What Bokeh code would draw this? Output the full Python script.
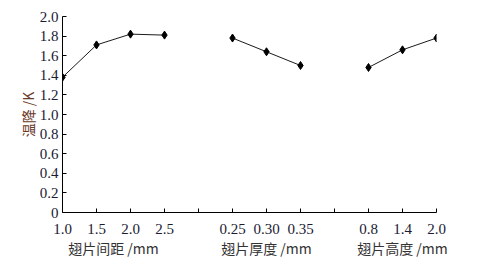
from bokeh.plotting import figure
from bokeh.models import LinearAxis, FixedTicker, Range1d
from bokeh.embed import file_html
from bokeh.resources import INLINE

# Data
spacing_labels = ["1.0", "1.5", "2.0", "2.5"]
spacing_values = [1.38, 1.71, 1.82, 1.81]
thickness_labels = ["0.25", "0.30", "0.35"]
thickness_values = [1.78, 1.64, 1.50]
height_labels = ["0.8", "1.4", "2.0"]
height_values = [1.48, 1.66, 1.78]
group_titles = ["翅片间距 /mm", "翅片厚度 /mm", "翅片高度 /mm"]
y_ticks = [0, 0.2, 0.4, 0.6, 0.8, 1.0, 1.2, 1.4, 1.6, 1.8, 2.0]
y_tick_labels = ["0", "0.2", "0.4", "0.6", "0.8", "1.0", "1.2", "1.4", "1.6", "1.8", "2.0"]
y_title = "温降 /K"

groups = [(spacing_labels, spacing_values), (thickness_labels, thickness_values), (height_labels, height_values)]

p = figure(width=477, height=262, output_backend="svg", toolbar_location=None,
           x_range=Range1d(0, 11), y_range=Range1d(0, 2.0),
           min_border_left=62, min_border_right=41, min_border_top=16, min_border_bottom=50)
p.outline_line_color = None
p.grid.visible = False
p.background_fill_color = "white"
p.border_fill_color = "white"

tick_pos = []
tick_labels = {}
group_centers = []
offset = 0
for labels, vals in groups:
    xs = [offset + i for i in range(len(labels))]
    p.line(xs, vals, line_color="black", line_width=0.9)
    p.scatter(xs, vals, marker="diamond", size=8, fill_color="black", line_color="black")
    for x, lab in zip(xs, labels):
        tick_pos.append(x)
        tick_labels[x] = lab
    group_centers.append((xs[0] + xs[-1]) / 2)
    gap = offset + len(labels)
    if gap < 11:
        tick_pos.append(gap)
        tick_labels[gap] = ""
    offset = gap + 1

tick_color = "#1a1a33"
xa = p.xaxis[0]
xa.ticker = FixedTicker(ticks=tick_pos)
xa.major_label_overrides = tick_labels
xa.major_tick_in = 4
xa.major_tick_out = 0
xa.minor_tick_line_color = None
xa.axis_line_color = "black"
xa.major_tick_line_color = "black"
xa.major_label_text_font = "Liberation Serif"
xa.major_label_text_font_size = "15px"
xa.major_label_text_color = tick_color
xa.major_label_standoff = 11

ga = LinearAxis(ticker=FixedTicker(ticks=group_centers),
                major_label_overrides={c: t for c, t in zip(group_centers, group_titles)})
ga.axis_line_color = None
ga.major_tick_line_color = None
ga.minor_tick_line_color = None
ga.major_label_text_font = "Noto Sans CJK SC"
ga.major_label_text_font_size = "14px"
ga.major_label_text_color = "#333333"
ga.major_label_standoff = -5
p.add_layout(ga, "below")

ya = p.yaxis[0]
ya.ticker = FixedTicker(ticks=y_ticks)
ya.major_label_overrides = {t: l for t, l in zip(y_ticks, y_tick_labels)}
ya.major_tick_in = 4
ya.major_tick_out = 0
ya.minor_tick_line_color = None
ya.axis_line_color = "black"
ya.major_tick_line_color = "black"
ya.major_label_text_font = "Liberation Serif"
ya.major_label_text_font_size = "15px"
ya.major_label_text_color = tick_color
ya.major_label_standoff = 4
ya.axis_label = y_title
ya.axis_label_text_font = "Noto Sans CJK SC"
ya.axis_label_text_font_size = "14px"
ya.axis_label_text_font_style = "normal"
ya.axis_label_text_color = "#6b3a2a"
ya.axis_label_standoff = -1

open("out.html", "w").write(file_html(p, INLINE))
